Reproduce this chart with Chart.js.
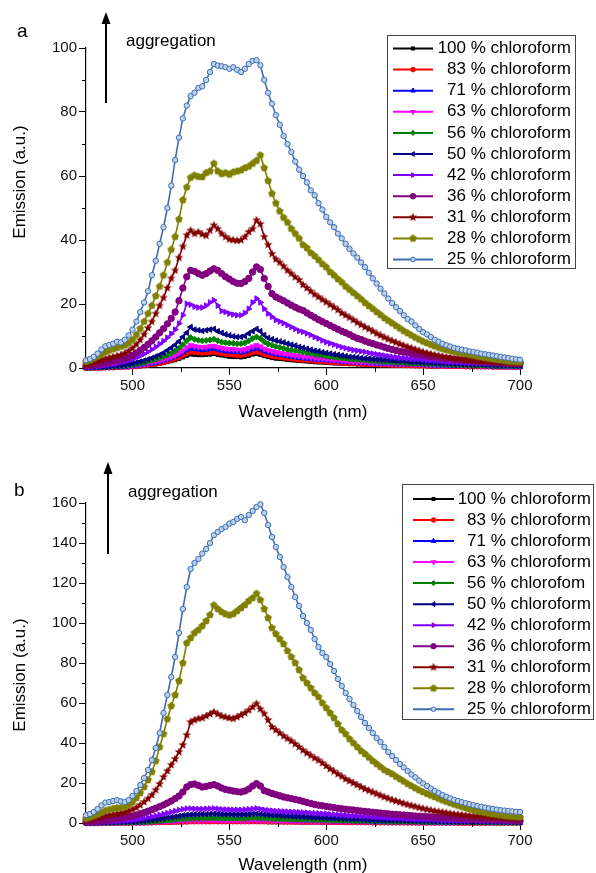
<!DOCTYPE html>
<html>
<head>
<meta charset="utf-8">
<script src="https://cdn.jsdelivr.net/npm/chart.js@4.4.1/dist/chart.umd.min.js"></script>
<style>
  body { margin: 0; width: 596px; height: 873px; overflow: hidden; background: #fff; }
  .panel { position: absolute; left: 0; width: 596px; }
</style>
</head>
<body>
<div class="panel" style="top:0;height:436px"><canvas id="chartA" width="596" height="436"></canvas></div>
<div class="panel" style="top:436px;height:437px"><canvas id="chartB" width="596" height="437"></canvas></div>
<script>
// Longitudes de onda (nm), paso de 2 nm
const wavelengths = [
  476,478,480,482,484,486,488,490,492,494,
  496,498,500,502,504,506,508,510,512,514,
  516,518,520,522,524,526,528,530,532,534,
  536,538,540,542,544,546,548,550,552,554,
  556,558,560,562,564,566,568,570,572,574,
  576,578,580,582,584,586,588,590,592,594,
  596,598,600,602,604,606,608,610,612,614,
  616,618,620,622,624,626,628,630,632,634,
  636,638,640,642,644,646,648,650,652,654,
  656,658,660,662,664,666,668,670,672,674,
  676,678,680,682,684,686,688,690,692,694,
  696,698,700
];

const labelsA = ['100 % chloroform','83 % chloroform','71 % chloroform','63 % chloroform','56 % chloroform','50 % chloroform','42 % chloroform','36 % chloroform','31 % chloroform','28 % chloroform','25 % chloroform'];
const labelsB = ['100 % chloroform','83 % chloroform','71 % chloroform','63 % chloroform','56 % chlorofom','50 % chloroform','42 % chloroform','36 % chloroform','31 % chloroform','28 % chloroform','25 % chloroform'];

const xMajor = [500, 550, 600, 650, 700];
const xMinor = [525, 575, 625, 675];
const yMajorA = [0, 20, 40, 60, 80, 100];
const yMinorA = [10, 30, 50, 70, 90];
const yMajorB = [0, 20, 40, 60, 80, 100, 120, 140, 160];
const yMinorB = [10, 30, 50, 70, 90, 110, 130, 150];

const xTitle = 'Wavelength (nm)';
const yTitle = 'Emission (a.u.)';
const arrowText = 'aggregation';

// ---- Panel a ----
const a100 = [
  0.0,0.0,0.1,0.1,0.1,0.1,0.2,0.2,0.2,0.3,
  0.3,0.4,0.4,0.5,0.6,0.7,0.8,1.0,1.2,1.4,
  1.6,1.9,2.2,2.5,2.9,3.4,3.9,4.3,4.2,4.1,
  4.1,4.2,4.3,4.5,4.2,4.0,3.8,3.6,3.5,3.5,
  3.4,3.6,3.9,4.3,4.5,4.2,3.8,3.5,3.2,3.0,
  2.9,2.8,2.6,2.5,2.4,2.3,2.2,2.1,2.0,1.9,
  1.8,1.8,1.7,1.6,1.5,1.5,1.4,1.4,1.3,1.3,
  1.2,1.2,1.1,1.1,1.0,1.0,1.0,0.9,0.9,0.9,
  0.8,0.8,0.8,0.8,0.7,0.7,0.7,0.7,0.6,0.6,
  0.6,0.6,0.6,0.5,0.5,0.5,0.5,0.5,0.5,0.4,
  0.4,0.4,0.4,0.4,0.4,0.4,0.4,0.3,0.3,0.3,
  0.3,0.3,0.3
];
const a83 = [
  0.0,0.1,0.1,0.1,0.1,0.2,0.2,0.2,0.3,0.3,
  0.4,0.4,0.5,0.6,0.7,0.9,1.0,1.2,1.4,1.6,
  1.9,2.2,2.6,3.0,3.5,4.1,4.7,5.2,5.0,4.9,
  4.8,4.9,5.0,5.1,4.8,4.6,4.4,4.3,4.2,4.1,
  4.1,4.3,4.6,5.0,5.2,4.9,4.4,4.1,3.8,3.6,
  3.4,3.3,3.1,3.0,2.8,2.7,2.6,2.5,2.4,2.3,
  2.2,2.1,2.0,1.9,1.8,1.7,1.7,1.6,1.5,1.5,
  1.4,1.4,1.3,1.3,1.2,1.2,1.1,1.1,1.1,1.0,
  1.0,1.0,0.9,0.9,0.9,0.8,0.8,0.8,0.8,0.7,
  0.7,0.7,0.7,0.6,0.6,0.6,0.6,0.6,0.5,0.5,
  0.5,0.5,0.5,0.5,0.5,0.4,0.4,0.4,0.4,0.4,
  0.4,0.4,0.4
];
const a71 = [
  0.1,0.1,0.1,0.1,0.2,0.2,0.2,0.3,0.3,0.4,
  0.4,0.5,0.6,0.8,0.9,1.1,1.3,1.5,1.7,2.0,
  2.3,2.7,3.1,3.6,4.2,4.9,5.6,6.2,6.0,5.8,
  5.7,5.8,6.0,6.1,5.8,5.5,5.3,5.2,5.1,5.0,
  4.9,5.1,5.5,5.9,6.2,5.9,5.3,4.9,4.6,4.3,
  4.1,3.9,3.7,3.6,3.4,3.2,3.1,3.0,2.8,2.7,
  2.6,2.5,2.4,2.3,2.2,2.1,2.0,1.9,1.8,1.8,
  1.7,1.6,1.6,1.5,1.5,1.4,1.4,1.3,1.3,1.2,
  1.2,1.1,1.1,1.1,1.0,1.0,1.0,0.9,0.9,0.9,
  0.8,0.8,0.8,0.8,0.7,0.7,0.7,0.7,0.6,0.6,
  0.6,0.6,0.6,0.6,0.5,0.5,0.5,0.5,0.5,0.5,
  0.5,0.4,0.4
];
const a63 = [
  0.1,0.1,0.1,0.2,0.2,0.2,0.3,0.3,0.4,0.4,
  0.5,0.6,0.7,0.9,1.0,1.2,1.4,1.7,2.0,2.3,
  2.6,3.0,3.5,4.0,4.7,5.5,6.4,7.1,6.8,6.6,
  6.5,6.6,6.8,6.9,6.5,6.2,6.0,5.9,5.8,5.7,
  5.6,5.8,6.2,6.7,7.1,6.7,6.0,5.5,5.2,4.9,
  4.7,4.5,4.3,4.1,3.9,3.7,3.5,3.4,3.2,3.1,
  2.9,2.8,2.7,2.6,2.5,2.4,2.3,2.2,2.1,2.0,
  1.9,1.8,1.8,1.7,1.6,1.6,1.5,1.5,1.4,1.4,
  1.3,1.3,1.2,1.2,1.1,1.1,1.1,1.0,1.0,1.0,
  0.9,0.9,0.9,0.8,0.8,0.8,0.8,0.7,0.7,0.7,
  0.7,0.7,0.6,0.6,0.6,0.6,0.6,0.6,0.5,0.5,
  0.5,0.5,0.5
];
const a56 = [
  0.1,0.1,0.2,0.2,0.3,0.3,0.4,0.5,0.5,0.6,
  0.7,0.9,1.0,1.2,1.4,1.7,2.0,2.3,2.7,3.1,
  3.5,4.0,4.6,5.3,6.2,7.3,8.5,9.5,9.0,8.7,
  8.5,8.6,8.8,9.0,8.5,8.1,7.9,7.8,7.7,7.6,
  7.6,7.9,8.5,9.2,9.7,9.2,8.2,7.5,7.1,6.7,
  6.4,6.1,5.8,5.6,5.4,5.2,5.0,4.7,4.5,4.3,
  4.1,3.9,3.7,3.5,3.4,3.2,3.1,3.0,2.8,2.7,
  2.6,2.5,2.4,2.3,2.2,2.1,2.0,1.9,1.9,1.8,
  1.7,1.7,1.6,1.5,1.5,1.4,1.4,1.3,1.3,1.2,
  1.2,1.2,1.1,1.1,1.0,1.0,1.0,0.9,0.9,0.9,
  0.9,0.8,0.8,0.8,0.8,0.7,0.7,0.7,0.7,0.7,
  0.6,0.6,0.6
];
const a50 = [
  0.2,0.2,0.2,0.3,0.3,0.4,0.5,0.6,0.7,0.8,
  1.0,1.2,1.4,1.7,2.0,2.3,2.7,3.1,3.6,4.1,
  4.7,5.5,6.3,7.2,8.3,9.7,11.0,12.8,12.0,11.8,
  11.6,11.8,12.0,12.2,11.5,11.0,10.5,10.2,9.9,9.7,
  9.7,10.0,10.8,11.5,12.2,11.5,10.3,9.4,9.0,8.6,
  8.3,8.0,7.6,7.3,7.0,6.6,6.3,6.0,5.7,5.4,
  5.2,4.9,4.7,4.5,4.3,4.1,3.9,3.7,3.5,3.4,
  3.3,3.1,3.0,2.9,2.8,2.7,2.6,2.5,2.4,2.3,
  2.2,2.1,2.1,2.0,1.9,1.9,1.8,1.7,1.7,1.6,
  1.6,1.5,1.5,1.4,1.4,1.3,1.3,1.2,1.2,1.2,
  1.1,1.1,1.1,1.0,1.0,1.0,0.9,0.9,0.9,0.9,
  0.8,0.8,0.8
];
const a42 = [
  0.3,0.3,0.4,0.5,0.6,0.8,1.0,1.2,1.4,1.7,
  2.0,2.4,2.8,3.3,3.8,4.4,5.1,5.8,6.6,7.5,
  8.4,9.5,10.7,12.0,13.9,16.5,20.1,19.8,19.2,18.9,
  18.9,19.5,20.5,21.2,19.5,17.8,17.5,17.0,16.7,16.5,
  16.5,17.2,18.5,20.5,21.7,20.5,18.5,17.0,16.0,15.0,
  14.5,14.0,13.4,12.8,12.2,11.6,11.3,10.8,10.3,9.7,
  9.2,8.6,8.1,7.7,7.3,6.9,6.5,6.2,5.9,5.6,
  5.4,5.2,5.0,4.7,4.5,4.3,4.1,3.9,3.7,3.5,
  3.4,3.2,3.1,3.0,2.9,2.8,2.7,2.6,2.5,2.4,
  2.3,2.2,2.1,2.0,1.9,1.9,1.8,1.7,1.7,1.6,
  1.6,1.5,1.5,1.4,1.4,1.3,1.3,1.3,1.2,1.2,
  1.2,1.2,1.1
];
const a36 = [
  0.6,0.7,0.9,1.1,1.3,1.5,1.7,2.0,2.3,2.6,
  2.9,3.4,4.0,4.7,5.5,6.4,7.4,8.5,9.7,11.0,
  12.3,13.8,15.5,17.5,21.0,25.0,28.5,30.5,30.2,29.5,
  29.0,29.5,30.3,31.0,30.5,29.5,28.5,27.8,27.0,26.5,
  26.4,27.0,28.0,30.0,31.6,30.8,28.0,25.5,23.2,22.2,
  21.6,21.0,20.3,19.6,19.0,18.4,18.0,17.2,16.5,15.8,
  15.1,14.5,13.9,13.3,12.7,12.1,11.5,11.0,10.5,9.8,
  9.3,8.9,8.4,8.0,7.6,7.2,6.9,6.5,6.1,5.8,
  5.5,5.2,5.0,4.8,4.5,4.3,4.1,3.9,3.7,3.5,
  3.4,3.2,3.1,3.0,2.9,2.7,2.6,2.5,2.4,2.3,
  2.2,2.1,2.0,2.0,1.9,1.8,1.7,1.7,1.6,1.5,
  1.5,1.4,1.4
];
const a31 = [
  1.0,1.3,1.7,2.1,2.5,2.9,3.2,3.5,3.8,4.1,
  4.6,5.3,6.2,7.4,8.8,10.5,12.5,14.5,17.0,19.5,
  22.0,25.0,28.0,30.5,34.5,38.0,41.5,43.0,42.0,42.5,
  41.8,41.4,43.0,44.6,43.5,42.0,41.0,40.2,40.0,39.8,
  40.0,41.0,42.5,43.5,46.2,45.0,41.0,38.5,35.7,34.0,
  33.0,31.8,30.5,29.5,28.4,27.5,26.0,25.0,24.0,23.0,
  22.2,21.4,20.6,19.8,19.0,18.2,17.2,16.5,15.8,15.0,
  14.2,13.5,12.8,12.2,11.5,10.8,10.2,9.6,9.0,8.5,
  8.0,7.5,7.0,6.6,6.2,5.8,5.4,5.0,4.7,4.4,
  4.1,3.9,3.6,3.4,3.2,3.0,2.9,2.7,2.6,2.5,
  2.4,2.3,2.2,2.1,2.0,1.9,1.8,1.7,1.6,1.6,
  1.5,1.4,1.4
];
const a28 = [
  2.0,2.4,3.0,3.6,4.3,5.0,5.5,5.9,6.3,6.7,
  7.1,7.8,8.8,10.4,12.3,14.5,17.0,19.5,22.5,25.5,
  29.0,33.0,37.0,41.0,46.5,52.5,56.5,59.5,60.2,59.8,
  59.7,61.0,61.5,63.9,61.5,60.7,61.0,60.5,61.2,61.5,
  61.8,62.5,63.0,63.9,64.8,66.5,62.5,58.5,54.5,51.5,
  49.0,47.0,45.5,43.5,42.0,40.5,38.5,37.5,36.0,35.0,
  33.8,32.5,31.5,30.0,29.0,27.8,26.8,25.5,24.5,23.5,
  22.5,21.5,20.4,19.4,18.5,17.5,16.6,15.6,14.8,14.0,
  13.2,12.4,11.6,10.9,10.2,9.5,8.9,8.3,7.8,7.3,
  6.8,6.4,6.0,5.7,5.4,5.1,4.8,4.6,4.4,4.2,
  3.9,3.6,3.4,3.2,3.0,2.8,2.6,2.5,2.3,2.1,
  2.0,1.9,1.9
];
const a25 = [
  2.4,2.8,3.5,4.5,5.8,6.8,7.2,7.6,8.2,8.0,
  8.8,10.2,12.0,14.5,17.5,20.5,24.0,29.0,33.5,38.8,
  44.0,50.0,57.0,65.0,72.0,78.0,82.0,85.0,86.0,87.5,
  88.0,90.0,92.5,95.0,94.5,94.3,94.0,93.5,94.0,93.2,
  92.5,93.5,95.0,96.0,96.2,94.6,90.0,86.0,82.6,79.0,
  76.0,72.5,70.0,67.5,64.5,62.0,60.0,58.0,55.5,54.0,
  51.5,49.5,47.2,45.5,44.0,42.0,40.5,38.8,37.2,35.8,
  34.5,33.0,31.5,29.8,28.0,26.4,24.8,23.3,21.7,20.3,
  19.0,17.8,16.5,15.3,14.5,13.3,12.2,11.2,10.5,9.7,
  8.8,8.2,7.6,7.1,6.7,6.3,6.0,5.7,5.5,5.2,
  5.0,4.8,4.5,4.3,4.1,3.9,3.7,3.5,3.3,3.1,
  2.9,2.7,2.6
];

// ---- Panel b ----
const b100 = [
  0.0,0.0,0.0,0.0,0.0,0.0,0.0,0.0,0.0,0.0,
  0.1,0.1,0.1,0.1,0.1,0.1,0.2,0.2,0.2,0.3,
  0.3,0.3,0.4,0.4,0.5,0.5,0.5,0.6,0.6,0.6,
  0.6,0.6,0.6,0.6,0.6,0.6,0.6,0.6,0.6,0.6,
  0.6,0.6,0.6,0.6,0.6,0.6,0.6,0.5,0.5,0.5,
  0.5,0.5,0.5,0.5,0.4,0.4,0.4,0.4,0.4,0.4,
  0.4,0.3,0.3,0.3,0.3,0.3,0.3,0.3,0.3,0.3,
  0.2,0.2,0.2,0.2,0.2,0.2,0.2,0.2,0.2,0.2,
  0.2,0.2,0.2,0.2,0.2,0.2,0.2,0.2,0.2,0.2,
  0.1,0.1,0.1,0.1,0.1,0.1,0.1,0.1,0.1,0.1,
  0.1,0.1,0.1,0.1,0.1,0.1,0.1,0.1,0.1,0.1,
  0.1,0.1,0.1
];
const b83 = [
  0.0,0.0,0.0,0.0,0.0,0.1,0.1,0.1,0.1,0.1,
  0.1,0.1,0.1,0.2,0.2,0.2,0.3,0.3,0.4,0.4,
  0.5,0.5,0.6,0.7,0.7,0.8,0.8,0.9,0.9,0.9,
  0.9,0.9,0.9,1.0,0.9,0.9,0.9,0.9,0.9,0.9,
  0.9,0.9,0.9,1.0,1.0,0.9,0.9,0.8,0.8,0.8,
  0.8,0.7,0.7,0.7,0.7,0.7,0.6,0.6,0.6,0.6,
  0.6,0.5,0.5,0.5,0.5,0.5,0.5,0.4,0.4,0.4,
  0.4,0.4,0.4,0.4,0.3,0.3,0.3,0.3,0.3,0.3,
  0.3,0.3,0.3,0.2,0.2,0.2,0.2,0.2,0.2,0.2,
  0.2,0.2,0.2,0.2,0.2,0.2,0.1,0.1,0.1,0.1,
  0.1,0.1,0.1,0.1,0.1,0.1,0.1,0.1,0.1,0.1,
  0.1,0.1,0.1
];
const b71 = [
  0.0,0.0,0.0,0.1,0.1,0.1,0.1,0.1,0.1,0.2,
  0.2,0.2,0.3,0.3,0.4,0.4,0.5,0.6,0.7,0.8,
  0.9,1.0,1.1,1.3,1.4,1.5,1.6,1.7,1.7,1.7,
  1.7,1.8,1.8,1.8,1.8,1.7,1.7,1.7,1.7,1.7,
  1.7,1.7,1.8,1.8,1.8,1.7,1.7,1.6,1.6,1.5,
  1.5,1.4,1.4,1.4,1.3,1.3,1.2,1.2,1.1,1.1,
  1.1,1.0,1.0,1.0,0.9,0.9,0.9,0.8,0.8,0.8,
  0.7,0.7,0.7,0.7,0.6,0.6,0.6,0.6,0.5,0.5,
  0.5,0.5,0.5,0.5,0.4,0.4,0.4,0.4,0.4,0.4,
  0.4,0.3,0.3,0.3,0.3,0.3,0.3,0.3,0.3,0.3,
  0.3,0.2,0.2,0.2,0.2,0.2,0.2,0.2,0.2,0.2,
  0.2,0.2,0.2
];
const b63 = [
  0.0,0.0,0.0,0.0,0.1,0.1,0.1,0.1,0.1,0.1,
  0.1,0.2,0.2,0.2,0.3,0.3,0.4,0.4,0.5,0.6,
  0.6,0.7,0.8,0.9,1.0,1.1,1.2,1.2,1.2,1.2,
  1.2,1.3,1.3,1.3,1.3,1.2,1.2,1.2,1.2,1.2,
  1.2,1.2,1.3,1.3,1.3,1.2,1.2,1.1,1.1,1.1,
  1.0,1.0,1.0,1.0,0.9,0.9,0.9,0.8,0.8,0.8,
  0.8,0.7,0.7,0.7,0.7,0.6,0.6,0.6,0.6,0.6,
  0.5,0.5,0.5,0.5,0.5,0.4,0.4,0.4,0.4,0.4,
  0.4,0.4,0.3,0.3,0.3,0.3,0.3,0.3,0.3,0.3,
  0.3,0.2,0.2,0.2,0.2,0.2,0.2,0.2,0.2,0.2,
  0.2,0.2,0.2,0.2,0.2,0.1,0.1,0.1,0.1,0.1,
  0.1,0.1,0.1
];
const b56 = [
  0.0,0.0,0.1,0.1,0.1,0.1,0.1,0.2,0.2,0.2,
  0.3,0.3,0.4,0.4,0.5,0.6,0.7,0.8,0.9,1.0,
  1.2,1.3,1.5,1.7,1.9,2.1,2.2,2.3,2.3,2.3,
  2.4,2.4,2.4,2.5,2.4,2.4,2.3,2.3,2.3,2.3,
  2.3,2.3,2.4,2.5,2.5,2.4,2.3,2.2,2.1,2.1,
  2.0,2.0,1.9,1.9,1.8,1.7,1.7,1.6,1.6,1.5,
  1.5,1.4,1.4,1.3,1.3,1.2,1.2,1.1,1.1,1.0,
  1.0,1.0,0.9,0.9,0.9,0.8,0.8,0.8,0.7,0.7,
  0.7,0.7,0.6,0.6,0.6,0.6,0.6,0.5,0.5,0.5,
  0.5,0.5,0.5,0.4,0.4,0.4,0.4,0.4,0.4,0.4,
  0.3,0.3,0.3,0.3,0.3,0.3,0.3,0.3,0.3,0.3,
  0.3,0.2,0.2
];
const b50 = [
  0.1,0.1,0.1,0.2,0.2,0.2,0.3,0.3,0.4,0.4,
  0.5,0.6,0.7,0.8,1.0,1.1,1.3,1.5,1.8,2.0,
  2.3,2.6,2.9,3.2,3.5,3.8,4.0,4.2,4.3,4.3,
  4.4,4.4,4.5,4.6,4.5,4.4,4.3,4.3,4.2,4.2,
  4.2,4.3,4.4,4.5,4.6,4.4,4.2,4.0,3.9,3.8,
  3.7,3.6,3.5,3.4,3.3,3.2,3.1,3.0,2.9,2.8,
  2.7,2.6,2.5,2.4,2.3,2.2,2.2,2.1,2.0,1.9,
  1.8,1.8,1.7,1.6,1.6,1.5,1.5,1.4,1.4,1.3,
  1.3,1.2,1.2,1.1,1.1,1.1,1.0,1.0,1.0,0.9,
  0.9,0.9,0.8,0.8,0.8,0.8,0.7,0.7,0.7,0.7,
  0.6,0.6,0.6,0.6,0.6,0.5,0.5,0.5,0.5,0.5,
  0.5,0.5,0.4
];
const b42 = [
  0.2,0.2,0.3,0.3,0.4,0.5,0.6,0.7,0.8,1.0,
  1.1,1.3,1.5,1.8,2.1,2.4,2.8,3.2,3.6,4.1,
  4.5,5.0,5.5,6.0,6.5,6.9,7.2,7.2,7.1,7.0,
  7.0,7.1,7.2,7.3,7.1,6.9,6.8,6.7,6.6,6.6,
  6.6,6.7,6.9,7.1,7.3,7.0,6.6,6.4,6.2,6.0,
  5.9,5.8,5.7,5.6,5.5,5.4,5.3,5.2,5.0,4.9,
  4.8,4.7,4.6,4.4,4.3,4.1,4.0,3.9,3.7,3.6,
  3.5,3.3,3.2,3.1,3.0,2.9,2.8,2.7,2.6,2.5,
  2.4,2.3,2.2,2.1,2.0,1.9,1.9,1.8,1.7,1.7,
  1.6,1.5,1.5,1.4,1.4,1.3,1.3,1.2,1.2,1.1,
  1.1,1.1,1.0,1.0,1.0,0.9,0.9,0.9,0.8,0.8,
  0.8,0.8,0.8
];
const b36 = [
  0.5,0.6,0.7,0.9,1.1,1.3,1.5,1.8,2.1,2.4,
  2.7,3.1,3.5,4.0,4.6,5.2,5.9,6.6,7.4,8.2,
  9.0,10.0,11.0,12.2,13.5,15.5,18.0,19.2,19.5,18.8,
  18.0,18.3,18.8,19.2,18.5,17.5,16.8,16.4,16.0,15.7,
  15.5,16.0,17.0,18.5,19.7,18.5,16.2,15.5,14.8,14.2,
  13.6,13.0,12.6,12.2,11.8,11.4,10.8,10.3,9.8,9.3,
  8.9,8.6,8.3,8.0,7.7,7.4,7.1,6.9,6.7,6.5,
  6.3,6.0,5.8,5.6,5.4,5.2,5.0,4.8,4.6,4.4,
  4.3,4.1,4.0,3.8,3.7,3.5,3.4,3.3,3.1,3.0,
  2.9,2.8,2.7,2.6,2.5,2.4,2.3,2.2,2.1,2.0,
  1.9,1.9,1.8,1.7,1.7,1.6,1.6,1.5,1.5,1.4,
  1.4,1.3,1.3
];
const b31 = [
  1.3,1.6,2.0,2.5,3.0,3.5,3.9,4.3,4.6,4.9,
  5.3,6.0,6.8,7.7,9.0,10.5,12.2,14.0,16.5,19.5,
  23.0,26.0,29.0,32.0,35.5,39.0,44.0,50.5,51.5,52.2,
  52.5,53.5,54.5,55.5,54.5,53.5,53.0,52.5,52.2,53.0,
  54.0,55.0,56.4,58.0,59.7,57.0,54.7,51.5,48.0,46.5,
  45.0,43.5,42.2,41.0,39.5,38.0,36.4,35.0,33.8,32.5,
  31.4,30.0,28.5,27.0,25.8,24.5,23.3,22.0,21.0,20.0,
  19.0,18.0,17.0,16.2,15.4,14.6,13.8,13.0,12.3,11.6,
  11.0,10.4,9.8,9.2,8.7,8.2,7.7,7.2,6.8,6.4,
  6.0,5.7,5.4,5.1,4.8,4.5,4.3,4.1,3.9,3.7,
  3.5,3.4,3.2,3.1,2.9,2.8,2.7,2.6,2.5,2.4,
  2.3,2.2,2.2
];
const b28 = [
  2.2,2.8,3.5,4.3,5.2,6.2,6.8,7.2,7.5,7.7,
  8.0,9.0,10.5,12.5,15.0,18.0,21.5,25.5,31.0,38.0,
  44.5,52.0,58.5,64.0,71.0,80.0,90.0,92.5,95.0,96.5,
  98.5,101.0,104.0,108.9,107.0,105.5,104.5,103.9,104.5,106.0,
  107.5,109.0,111.0,112.5,114.7,111.5,107.0,102.5,97.5,94.5,
  92.0,89.5,86.0,83.0,80.0,76.5,72.5,70.0,67.5,65.0,
  63.0,60.0,57.5,55.0,52.5,49.5,46.5,44.5,42.0,40.0,
  38.0,36.0,34.5,32.8,31.0,29.5,28.0,26.5,25.5,24.5,
  23.2,22.0,20.8,19.6,18.5,17.4,16.4,15.5,14.6,13.8,
  13.0,12.2,11.4,10.7,10.0,9.3,8.7,8.1,7.5,7.0,
  6.5,6.0,5.6,5.2,4.8,4.5,4.2,3.9,3.6,3.4,
  3.2,3.1,3.0
];
const b25 = [
  3.9,4.5,5.5,7.0,8.8,10.2,10.5,11.0,11.4,10.8,
  10.5,11.5,13.5,16.0,19.0,22.5,26.5,31.5,37.5,45.0,
  55.0,64.0,73.0,83.0,95.0,107.0,118.0,127.0,130.0,132.0,
  134.7,137.0,140.0,143.9,145.5,147.0,148.0,149.7,150.5,152.0,
  153.0,151.4,154.0,156.0,158.0,159.4,155.0,149.0,143.0,138.0,
  133.0,128.0,123.0,118.0,113.0,108.5,103.5,100.0,96.5,92.0,
  88.0,85.0,83.0,79.5,76.0,72.0,68.5,65.0,62.0,59.0,
  56.0,53.0,50.0,47.5,45.0,42.5,40.5,38.0,35.5,33.5,
  31.5,29.5,27.8,26.0,24.3,22.8,21.2,19.8,18.5,17.2,
  16.0,15.0,14.0,13.1,12.3,11.6,11.0,10.4,9.9,9.4,
  8.9,8.5,8.1,7.7,7.3,7.0,6.7,6.4,6.2,6.0,
  5.8,5.6,5.5
];

const seriesA = [a100, a83, a71, a63, a56, a50, a42, a36, a31, a28, a25];
const seriesB = [b100, b83, b71, b63, b56, b50, b42, b36, b31, b28, b25];

// Colores estilo Origin
const seriesColors = ['#000000', '#ff0000', '#0000ff', '#ff00ff', '#008000', '#000080',
                      '#8000ff', '#800080', '#800000', '#808000', '#3d6db2'];

// Marcadores que Chart.js no trae: estrella y pentágono rellenos
function polygonMarker(color, points, outer, inner) {
    const size = Math.ceil(outer * 2 + 2);
    const c = document.createElement('canvas');
    c.width = size; c.height = size;
    const g = c.getContext('2d');
    const n = inner ? points * 2 : points;
    g.beginPath();
    for (let i = 0; i < n; i++) {
        const r = inner && i % 2 ? inner : outer;
        const ang = -Math.PI / 2 + i * 2 * Math.PI / n;
        const px = size / 2 + r * Math.cos(ang), py = size / 2 + r * Math.sin(ang);
        i ? g.lineTo(px, py) : g.moveTo(px, py);
    }
    g.closePath();
    g.fillStyle = color;
    g.fill();
    return c;
}

const starMarker = polygonMarker('#800000', 5, 4.6, 2.0);
const pentagonMarker = polygonMarker('#808000', 5, 4.0);

const markerStyles = [
    { style: 'rect', radius: 2.6, rotation: 0 },
    { style: 'circle', radius: 2.7, rotation: 0 },
    { style: 'triangle', radius: 3.2, rotation: 0 },
    { style: 'triangle', radius: 3.2, rotation: 180 },
    { style: 'rectRot', radius: 3.0, rotation: 0 },
    { style: 'triangle', radius: 3.2, rotation: -90 },
    { style: 'triangle', radius: 3.2, rotation: 90 },
    { style: 'circle', radius: 3.2, rotation: 0 },
    { style: starMarker, radius: 4, rotation: 0 },
    { style: pentagonMarker, radius: 4, rotation: 0 },
    { style: 'circle', radius: 2.7, rotation: 0, fill: '#bcd0ea' }
];

const FONT = 'Arial, "Liberation Sans", sans-serif';

// Dibuja lo que Chart.js no hace solo: ticks menores, títulos, flecha, leyenda con recuadro
const panelDeco = {
    id: 'panelDeco',
    afterDraw(chart, args, o) {
        const ctx = chart.ctx;
        const sx = chart.scales.x, sy = chart.scales.y;
        const { left, bottom } = chart.chartArea;
        ctx.save();
        ctx.strokeStyle = '#000';
        ctx.lineWidth = 1;
        ctx.beginPath();
        xMinor.forEach(v => {
            const p = Math.round(sx.getPixelForValue(v)) + 0.5;
            ctx.moveTo(p, bottom); ctx.lineTo(p, bottom + 4);
        });
        o.yMinor.forEach(v => {
            const p = Math.round(sy.getPixelForValue(v)) + 0.5;
            ctx.moveTo(left - 4, p); ctx.lineTo(left, p);
        });
        ctx.stroke();

        ctx.fillStyle = '#000';
        ctx.textBaseline = 'alphabetic';
        ctx.textAlign = 'left';
        ctx.font = '19px ' + FONT;
        ctx.fillText(o.letter, o.letterX, o.letterY);
        ctx.font = '17px ' + FONT;
        ctx.fillText(arrowText, o.textX, o.textY);

        // flecha
        ctx.lineWidth = 2;
        ctx.beginPath();
        ctx.moveTo(o.arrowX, o.arrowBottom);
        ctx.lineTo(o.arrowX, o.arrowTip + 8);
        ctx.stroke();
        ctx.beginPath();
        ctx.moveTo(o.arrowX, o.arrowTip);
        ctx.lineTo(o.arrowX - 4.5, o.arrowTip + 12);
        ctx.lineTo(o.arrowX + 4.5, o.arrowTip + 12);
        ctx.closePath();
        ctx.fill();

        // títulos de ejes
        ctx.textAlign = 'center';
        ctx.textBaseline = 'middle';
        ctx.fillText(xTitle, (sx.left + sx.right) / 2, o.xTitleY);
        ctx.save();
        ctx.translate(o.yTitleX, o.yTitleY);
        ctx.rotate(-Math.PI / 2);
        ctx.fillText(yTitle, 0, 0);
        ctx.restore();

        // leyenda
        const L = o.legend;
        ctx.strokeStyle = '#444';
        ctx.lineWidth = 1;
        ctx.strokeRect(L.x0 + 0.5, L.y0 + 0.5, L.x1 - L.x0, L.y1 - L.y0);
        chart.data.datasets.forEach((ds, i) => {
            const y = L.firstY + i * L.stepY;
            ctx.strokeStyle = ds.borderColor;
            ctx.lineWidth = 2;
            ctx.beginPath();
            ctx.moveTo(L.lineX0, y); ctx.lineTo(L.lineX1, y);
            ctx.stroke();
            ctx.fillStyle = ds.pointBackgroundColor;
            ctx.strokeStyle = ds.borderColor;
            ctx.lineWidth = 1;
            Chart.helpers.drawPoint(ctx, {
                pointStyle: ds.pointStyle, rotation: ds.pointRotation,
                radius: ds.pointRadius * 0.85, borderWidth: 1
            }, (L.lineX0 + L.lineX1) / 2, y);
            const num = ds.label.split(' ')[0];
            ctx.fillStyle = '#000';
            ctx.font = '17px ' + FONT;
            ctx.textAlign = 'right';
            ctx.fillText(num, L.numRight, y);
            ctx.textAlign = 'left';
            ctx.fillText(ds.label.slice(num.length), L.numRight, y);
        });
        ctx.restore();
    }
};

function crearGrafico(id, series, labels, yMax, yMajor, deco) {
    const datasets = series.map((vals, i) => {
        const m = markerStyles[i];
        return {
            label: labels[i],
            data: wavelengths.map((w, k) => ({ x: w, y: vals[k] })),
            borderColor: seriesColors[i],
            backgroundColor: seriesColors[i],
            pointBackgroundColor: m.fill || seriesColors[i],
            pointBorderColor: seriesColors[i],
            pointBorderWidth: 1,
            pointStyle: m.style,
            pointRotation: m.rotation,
            pointRadius: m.radius,
            borderWidth: 1.6,
            tension: 0,
            clip: false,
            order: series.length - i
        };
    });

    return new Chart(document.getElementById(id), {
        type: 'line',
        data: { datasets },
        plugins: [panelDeco],
        options: {
            responsive: false,
            animation: false,
            events: [],
            layout: { padding: { top: deco.top, right: 76, bottom: 0, left: 0 } },
            scales: {
                x: {
                    type: 'linear',
                    min: 476,
                    max: 700,
                    afterFit: s => { s.height = deco.xHeight; },
                    afterBuildTicks: s => { s.ticks = xMajor.map(value => ({ value })); },
                    border: { color: '#000', width: 1.2 },
                    grid: { drawOnChartArea: false, tickLength: 7, tickColor: '#000' },
                    ticks: { color: '#111', padding: 2, maxRotation: 0, font: { size: 15, family: FONT } }
                },
                y: {
                    min: 0,
                    max: yMax,
                    afterFit: s => { s.width = 86; },
                    afterBuildTicks: s => { s.ticks = yMajor.map(value => ({ value })); },
                    border: { color: '#000', width: 1.2 },
                    grid: { drawOnChartArea: false, tickLength: 7, tickColor: '#000' },
                    ticks: { color: '#111', padding: 2, font: { size: 15, family: FONT } }
                }
            },
            plugins: {
                legend: { display: false },
                tooltip: { enabled: false },
                panelDeco: deco
            }
        }
    });
}

crearGrafico('chartA', seriesA, labelsA, 100, yMajorA, {
    top: 48, xHeight: 68, yMinor: yMinorA,
    letter: 'a', letterX: 17, letterY: 37,
    textX: 126, textY: 46,
    arrowX: 106, arrowTip: 12, arrowBottom: 103,
    xTitleY: 412, yTitleX: 20, yTitleY: 182,
    legend: { x0: 387, y0: 35, x1: 575, y1: 268, firstY: 48.5, stepY: 21.1,
              lineX0: 393, lineX1: 433, numRight: 466 }
});

crearGrafico('chartB', seriesB, labelsB, 160, yMajorB, {
    top: 67, xHeight: 50, yMinor: yMinorB,
    letter: 'b', letterX: 14, letterY: 60,
    textX: 128, textY: 61,
    arrowX: 108, arrowTip: 26, arrowBottom: 118,
    xTitleY: 429, yTitleX: 20, yTitleY: 239,
    legend: { x0: 402, y0: 48, x1: 593, y1: 283, firstY: 63, stepY: 21.03,
              lineX0: 413, lineX1: 454, numRight: 486 }
});
</script>
</body>
</html>
